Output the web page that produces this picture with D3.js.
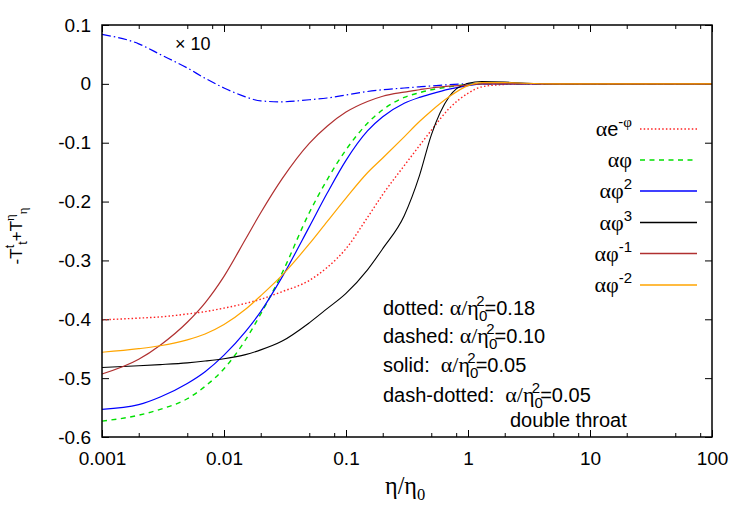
<!DOCTYPE html>
<html>
<head>
<meta charset="utf-8">
<script src="https://cdn.jsdelivr.net/npm/d3@7"></script>
<style>
  body { margin: 0; background: #fff; }
  svg { display: block; }
  .tick text { font-family: "Liberation Sans", Arial, sans-serif; font-size: 19px; fill: #000; }
  .tick line { stroke: #000; stroke-width: 1; }
</style>
</head>
<body>
<div id="chart"></div>
<script>
// eta / eta0 grid and curves
const eta = [0.001, 0.002, 0.003, 0.005, 0.007, 0.01, 0.015, 0.02, 0.03, 0.05, 0.07, 0.1, 0.15, 0.2, 0.3, 0.4, 0.5, 0.7, 1, 1.3, 2, 3, 5, 10, 100];

const expPhi = [-0.401, -0.398, -0.396, -0.391, -0.387, -0.381, -0.373, -0.366, -0.353, -0.334, -0.312, -0.280, -0.227, -0.188, -0.139, -0.105, -0.079, -0.042, -0.016, -0.005, -0.001, 0, 0, 0, 0];
const phi1 = [-0.573, -0.563, -0.553, -0.535, -0.514, -0.484, -0.435, -0.391, -0.321, -0.219, -0.163, -0.112, -0.067, -0.044, -0.023, -0.015, -0.010, -0.005, -0.001, 0, 0, 0, 0, 0, 0];
const phi2 = [-0.553, -0.545, -0.532, -0.509, -0.489, -0.461, -0.421, -0.387, -0.328, -0.243, -0.186, -0.130, -0.080, -0.056, -0.033, -0.023, -0.017, -0.009, -0.003, 0, 0, 0, 0, 0, 0];
const phi3 = [-0.482, -0.479, -0.477, -0.474, -0.471, -0.467, -0.460, -0.452, -0.437, -0.406, -0.382, -0.356, -0.316, -0.280, -0.224, -0.156, -0.087, -0.022, 0.001, 0.004, 0.003, 0.001, 0, 0, 0];
const phiM1 = [-0.493, -0.468, -0.444, -0.405, -0.372, -0.327, -0.264, -0.219, -0.161, -0.101, -0.072, -0.048, -0.030, -0.021, -0.014, -0.010, -0.007, -0.004, -0.002, 0, 0, 0, 0, 0, 0];
const phiM2 = [-0.456, -0.450, -0.445, -0.435, -0.425, -0.409, -0.383, -0.360, -0.325, -0.272, -0.234, -0.194, -0.151, -0.126, -0.090, -0.064, -0.046, -0.022, -0.003, 0.002, 0.002, 0.001, 0, 0, 0];
// double throat, shown x10
const doubleThroat = [0.084, 0.068, 0.050, 0.027, 0.0095, -0.007, -0.022, -0.029, -0.0305, -0.027, -0.024, -0.019, -0.013, -0.010, -0.007, -0.005, -0.0035, -0.0015, 0, 0, 0, 0, 0, 0, 0];

const xTicks = [0.001, 0.01, 0.1, 1, 10, 100];
const xTickLabels = ["0.001", "0.01", "0.1", "1", "10", "100"];
const xMinorSteps = [2, 5, 8];
const yTicks = [0.1, 0, -0.1, -0.2, -0.3, -0.4, -0.5, -0.6];
const yTickLabels = ["0.1", "0", "-0.1", "-0.2", "-0.3", "-0.4", "-0.5", "-0.6"];

const SANS = '"Liberation Sans", Arial, sans-serif';
const SERIF = '"Liberation Serif", "Times New Roman", serif';

const width = 750, height = 525;
const margin = {top: 25, right: 38, bottom: 88, left: 102};

const svg = d3.select("#chart").append("svg")
  .attr("width", width)
  .attr("height", height);

const x = d3.scaleLog()
  .domain([0.001, 100])
  .range([margin.left, width - margin.right]);
const y = d3.scaleLinear()
  .domain([-0.6, 0.1])
  .range([height - margin.bottom, margin.top]);

// minor ticks at 2,5,8 per decade (as in the figure)
const xMinor = [];
xTicks.slice(0, -1).forEach(d => xMinorSteps.forEach(m => xMinor.push(d * m)));

// axes with inward ticks
svg.append("g")
  .attr("transform", `translate(0,${y.range()[0]})`)
  .call(d3.axisBottom(x).tickValues(xTicks).tickSize(-7).tickPadding(14.5)
    .tickFormat((d, i) => xTickLabels[i]))
  .call(g => g.select(".domain").remove());
svg.append("g")
  .attr("transform", `translate(0,${y.range()[0]})`)
  .call(d3.axisBottom(x).tickValues(xMinor).tickSize(-4).tickFormat(""))
  .call(g => g.select(".domain").remove());
svg.append("g")
  .attr("transform", `translate(0,${y.range()[1]})`)
  .call(d3.axisTop(x).tickValues(xTicks).tickSize(-7).tickFormat(""))
  .call(g => g.select(".domain").remove());
svg.append("g")
  .attr("transform", `translate(0,${y.range()[1]})`)
  .call(d3.axisTop(x).tickValues(xMinor).tickSize(-4).tickFormat(""))
  .call(g => g.select(".domain").remove());
svg.append("g")
  .attr("transform", `translate(${x.range()[0]},0)`)
  .call(d3.axisLeft(y).tickValues(yTicks).tickSize(-7).tickPadding(11)
    .tickFormat((d, i) => yTickLabels[i]))
  .call(g => g.select(".domain").remove());
svg.append("g")
  .attr("transform", `translate(${x.range()[1]},0)`)
  .call(d3.axisRight(y).tickValues(yTicks).tickSize(-7).tickFormat(""))
  .call(g => g.select(".domain").remove());

// curves
const series = [
  {vals: doubleThroat, color: "#0000ff", dash: "9,3,1.5,3", width: 1.2},
  {vals: expPhi, color: "#ff2020", dash: "1.5,2.2", width: 1.4, label: [["α", 1], ["e"], ["-", 0, "sup"], ["φ", 1, "sup"]]},
  {vals: phi1, color: "#00e000", dash: "5,4.5", width: 1.4, label: [["α", 1], ["φ", 1]]},
  {vals: phi2, color: "#0000ff", dash: null, width: 1.2, label: [["α", 1], ["φ", 1], ["2", 0, "sup"]]},
  {vals: phi3, color: "#000000", dash: null, width: 1.1, label: [["α", 1], ["φ", 1], ["3", 0, "sup"]]},
  {vals: phiM1, color: "#b03030", dash: null, width: 1.2, label: [["α", 1], ["φ", 1], ["-1", 0, "sup"]]},
  {vals: phiM2, color: "#ffa500", dash: null, width: 1.2, label: [["α", 1], ["φ", 1], ["-2", 0, "sup"]]}
];

const line = d3.line()
  .x(d => x(d[0]))
  .y(d => y(d[1]))
  .curve(d3.curveMonotoneX);

svg.append("g")
  .selectAll("path")
  .data(series)
  .enter()
  .append("path")
  .attr("d", s => line(eta.map((e, i) => [e, s.vals[i]])))
  .attr("fill", "none")
  .attr("stroke", s => s.color)
  .attr("stroke-width", s => s.width)
  .attr("stroke-dasharray", s => s.dash);

// frame
svg.append("rect")
  .attr("x", x.range()[0])
  .attr("y", y.range()[1])
  .attr("width", x.range()[1] - x.range()[0])
  .attr("height", y.range()[0] - y.range()[1])
  .attr("fill", "none")
  .attr("stroke", "#000")
  .attr("stroke-width", 1.5);

// text with greek letters, super and subscripts
function rich(sel, parts, size) {
  let cur = 0;
  parts.forEach(p => {
    const [t, serif, pos, dx] = p;
    const target = pos === "sup" ? -size * 0.45 : pos === "sub" ? size * 0.28 : 0;
    const ts = sel.append("tspan")
      .text(t)
      .attr("dy", target - cur)
      .attr("font-family", serif ? SERIF : SANS)
      .attr("font-size", pos ? size * 0.75 : (serif ? size * 1.1 : size));
    if (dx) ts.attr("dx", dx);
    cur = target;
  });
  return sel;
}

// legend
const legendY = [129, 160, 191, 222.5, 253.5, 285];
const legend = svg.append("g");
series.filter(s => s.label).forEach((s, i) => {
  legend.append("line")
    .attr("x1", 640).attr("x2", 697)
    .attr("y1", legendY[i]).attr("y2", legendY[i])
    .attr("stroke", s.color)
    .attr("stroke-width", s.width + 0.3)
    .attr("stroke-dasharray", s.dash);
  rich(legend.append("text")
    .attr("x", 632).attr("y", legendY[i] + 7)
    .attr("text-anchor", "end"), s.label, 20);
});

// notes
const notes = [
  {x: 383, y: 315, parts: [["dotted: "], ["α/η", 1], ["0", 0, "sub"], ["2", 0, "sup", -11], ["=0.18"]]},
  {x: 383, y: 343, parts: [["dashed: "], ["α/η", 1], ["0", 0, "sub"], ["2", 0, "sup", -11], ["=0.10"]]},
  {x: 383, y: 372, parts: [["solid:  "], ["α/η", 1], ["0", 0, "sub"], ["2", 0, "sup", -11], ["=0.05"]]},
  {x: 383, y: 402, parts: [["dash-dotted:  "], ["α/η", 1], ["0", 0, "sub"], ["2", 0, "sup", -11], ["=0.05"]]},
  {x: 510, y: 427, parts: [["double throat"]]},
  {x: 175, y: 50, parts: [["× 10"]], size: 18}
];
notes.forEach(n => {
  rich(svg.append("text")
    .attr("x", n.x).attr("y", n.y)
    .attr("xml:space", "preserve")
    .style("white-space", "pre"), n.parts, n.size || 20);
});

// axis titles
rich(svg.append("text")
  .attr("x", 385).attr("y", 494), [["η/η", 1], ["0", 1, "sub"]], 22);

rich(svg.append("text")
  .attr("text-anchor", "middle")
  .attr("transform", "translate(22,236) rotate(-90)"),
  [["-T"], ["t", 0, "sup"], ["t", 0, "sub"], ["+T"], ["η", 1, "sup"], ["η", 1, "sub"]], 17);
</script>
</body>
</html>
